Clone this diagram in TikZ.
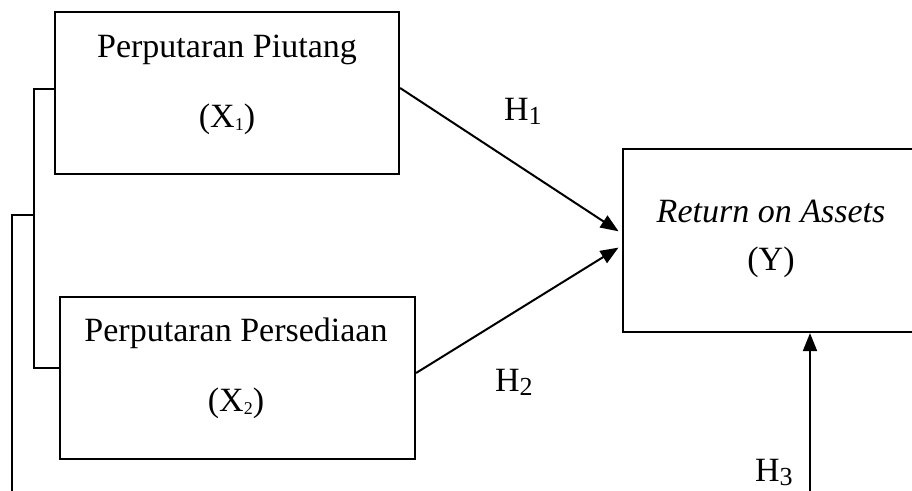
\documentclass[tikz,border=0pt]{standalone}
\usepackage{fontspec}
\setmainfont{Liberation Serif}
\usetikzlibrary{positioning, arrows.meta}

\newcommand{\xsub}[1]{\raisebox{-1.5pt}{\fontsize{9}{9}\selectfont #1}}
\newcommand{\hsub}[1]{\raisebox{-2pt}{\fontsize{13}{13}\selectfont #1}}

\tikzset{
	varbox/.style = {draw = black, line width = 1.1pt, inner sep = 0pt},
	boxtext/.style = {anchor = base, font = \fontsize{17}{20}\selectfont},
	hlabel/.style = {anchor = base west, font = \fontsize{17}{20}\selectfont},
	path arrow/.style = {line width = 1pt, -{Triangle[length = 9pt, width = 7pt]}, shorten > = 2pt}
}

\begin{document}
\begin{tikzpicture}[x = 0.5pt, y = -0.5pt]
		\useasboundingbox (0, 0) rectangle (912, 491);
		\clip (0, 0) rectangle (912, 491);
		% variable boxes
		\node[varbox, minimum width = 172pt, minimum height = 81pt] (box1) at (227, 93) {};
		\node[varbox, minimum width = 177.5pt, minimum height = 81pt] (box2) at (237.5, 378) {};
		\node[varbox, minimum width = 170pt, minimum height = 91.5pt] (boxY) at (793, 240.5) {};
		% box texts
		\node[boxtext] (x1name) at (227, 58) {Perputaran Piutang};
		\node[boxtext] (x1sym) at (227, 128) {(X\xsub{1})};
		\node[boxtext] (x2name) at (236, 342) {Perputaran Persediaan};
		\node[boxtext] (x2sym) at (236, 412) {(X\xsub{2})};
		\node[boxtext] (yname) at (771, 223) {\textit{Return on Assets}};
		\node[boxtext] (ysym) at (771, 271) {(Y)};
		% hypothesis labels
		\node[hlabel] (h1) at (497, 121) {H\hsub{1}};
		\node[hlabel] (h2) at (488, 392) {H\hsub{2}};
		\node[hlabel] (h3) at (748, 482) {H\hsub{3}};
		% arrows
		\draw[path arrow] ([yshift = 2.5pt]box1.east) -- ([yshift = 3.5pt]boxY.west);
		\draw[path arrow] ([yshift = 2.5pt]box2.east) -- ([yshift = -2.5pt]boxY.west);
		\coordinate (h3start) at (810, 500);
		\draw[path arrow, shorten > = 0pt] (h3start) -- ([xshift = 8.5pt]boxY.south);
		% bracket on the left
		\draw[line width = 1pt] ([yshift = 2pt]box1.west) -- (34, 89) -- (34, 368) -- ([yshift = 5pt]box2.west);
		\draw[line width = 1pt] (34, 215) -- (12, 215) -- (12, 500);
\end{tikzpicture}
\end{document}
